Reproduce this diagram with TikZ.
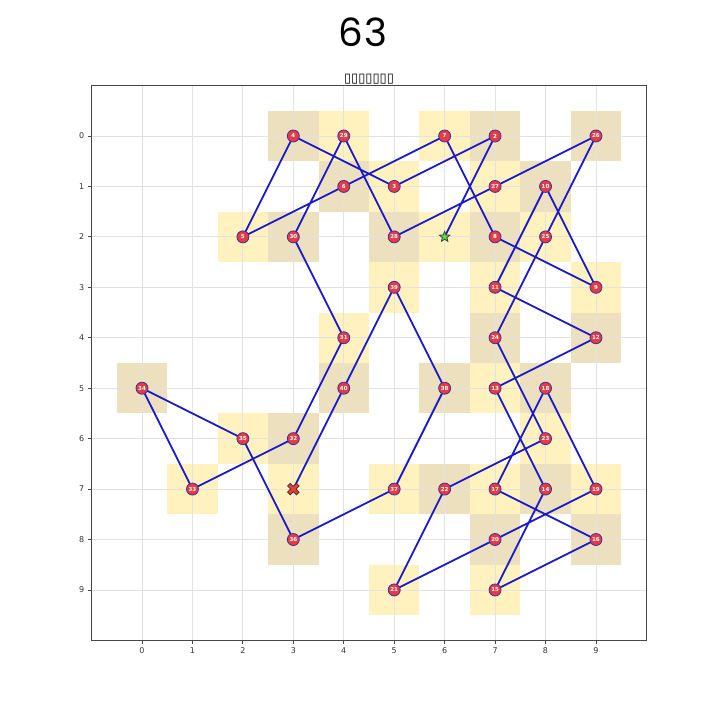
\documentclass[tikz,border=0pt]{standalone}
\usepackage{fontspec}
\setmainfont{DejaVu Sans}
\newfontfamily\titlefont{Poppins}
\usetikzlibrary{shapes.geometric}
\definecolor{yel}{RGB}{255,242,190}
\definecolor{tanc}{RGB}{237,224,190}
\definecolor{nodefill}{RGB}{228,60,68}
\definecolor{nodeedge}{RGB}{70,45,150}
\definecolor{edgec}{RGB}{25,25,205}
\definecolor{gridc}{RGB}{226,226,226}
\definecolor{framec}{RGB}{70,70,70}
\definecolor{starc}{RGB}{90,220,60}
\definecolor{xred}{RGB}{235,60,50}
\pgfdeclarelayer{back}
\pgfdeclarelayer{mid}
\pgfsetlayers{back,mid,main}
\begin{document}
\begin{tikzpicture}[x=1bp,y=1bp,
  font=\fontsize{8}{9}\selectfont,
  pt/.style={circle, fill=nodefill, draw=nodeedge, line width=0.8bp, minimum size=12bp, inner sep=0pt, text=white, font=\fontsize{5.5}{6}\selectfont\bfseries},
  edge/.style={draw=edgec, line width=1.8bp, line join=round},
  oddcell/.style={fill=yel},
  evencell/.style={fill=tanc},
  gridline/.style={draw=gridc, line width=0.8bp},
  ticklbl/.style={inner sep=0pt, text=black!80}]
\useasboundingbox (0,0) rectangle (720,720);
\node[anchor=base, font=\titlefont\fontsize{39}{42}\selectfont] (title) at (363,673) {6\kern1.5bp 3};
\node[anchor=base, font=\fontsize{13}{14}\selectfont] (sub) at (369,637) {▯▯▯▯▯▯▯};
\begin{scope}[shift={(142,584)}, x=50.44bp, y=-50.44bp]
  \begin{pgfonlayer}{back}
    \foreach \x/\y in {6/2,5/1,2/2,6/0,9/3,7/3,7/5,7/9,7/7,9/7,5/9,8/6,8/2,7/1,4/0,4/4,1/7,2/6,5/7,5/3,3/7}
      \fill[oddcell] (\x-0.5,\y-0.5) rectangle (\x+0.5,\y+0.5);
    \foreach \x/\y in {7/0,3/0,4/1,7/2,8/1,9/4,8/7,9/8,8/5,7/8,6/7,7/4,9/0,5/2,3/2,3/6,0/5,3/8,6/5,4/5}
      \fill[evencell] (\x-0.5,\y-0.5) rectangle (\x+0.5,\y+0.5);
    \foreach \i in {0,...,9} {
      \draw[gridline] (\i,-1) -- (\i,10);
      \draw[gridline] (-1,\i) -- (10,\i);
    }
  \end{pgfonlayer}
  \draw[framec, line width=0.9bp] (-1,-1) rectangle (10,10);
  \foreach \i in {0,...,9} {
    \draw[framec, line width=0.8bp] (\i,10) -- ++(0bp,-3.5bp) node[ticklbl, anchor=north, yshift=-3.5bp] {\i};
    \draw[framec, line width=0.8bp] (-1,\i) -- ++(-3.5bp,0bp) node[ticklbl, anchor=east, xshift=-3.5bp] {\i};
  }
  \foreach \n/\x/\y in {2/7/0,3/5/1,4/3/0,5/2/2,6/4/1,7/6/0,8/7/2,9/9/3,10/8/1,11/7/3,12/9/4,13/7/5,14/8/7,15/7/9,16/9/8,17/7/7,18/8/5,19/9/7,20/7/8,21/5/9,22/6/7,23/8/6,24/7/4,25/8/2,26/9/0,27/7/1,28/5/2,29/4/0,30/3/2,31/4/4,32/3/6,33/1/7,34/0/5,35/2/6,36/3/8,37/5/7,38/6/5,39/5/3,40/4/5}
    \node[pt] (n\n) at (\x,\y) {\n};
  \node[star, star points=5, star point ratio=2.3, fill=starc, draw=black!75, line width=0.8bp, minimum size=11bp, inner sep=0pt] (s) at (6,2) {};
  \node[circle, minimum size=3bp, inner sep=0pt] (e) at (3,7) {};
  \begin{scope}[shift={(e.center)}, rotate=45]
    \filldraw[fill=xred, draw=black!80, line width=0.7bp]
      (1.9bp,6.3bp) -- (1.9bp,1.9bp) -- (6.3bp,1.9bp) -- (6.3bp,-1.9bp) -- (1.9bp,-1.9bp) -- (1.9bp,-6.3bp)
      -- (-1.9bp,-6.3bp) -- (-1.9bp,-1.9bp) -- (-6.3bp,-1.9bp) -- (-6.3bp,1.9bp) -- (-1.9bp,1.9bp) -- (-1.9bp,6.3bp) -- cycle;
  \end{scope}
  \begin{pgfonlayer}{mid}
    \draw[edge] (s.center) -- (n2.center) -- (n3.center) -- (n4.center) -- (n5.center) -- (n6.center) -- (n7.center) -- (n8.center) -- (n9.center) -- (n10.center)
      -- (n11.center) -- (n12.center) -- (n13.center) -- (n14.center) -- (n15.center) -- (n16.center) -- (n17.center) -- (n18.center) -- (n19.center) -- (n20.center)
      -- (n21.center) -- (n22.center) -- (n23.center) -- (n24.center) -- (n25.center) -- (n26.center) -- (n27.center) -- (n28.center) -- (n29.center) -- (n30.center)
      -- (n31.center) -- (n32.center) -- (n33.center) -- (n34.center) -- (n35.center) -- (n36.center) -- (n37.center) -- (n38.center) -- (n39.center) -- (n40.center)
      -- (e.center);
  \end{pgfonlayer}
\end{scope}
\end{tikzpicture}
\end{document}
